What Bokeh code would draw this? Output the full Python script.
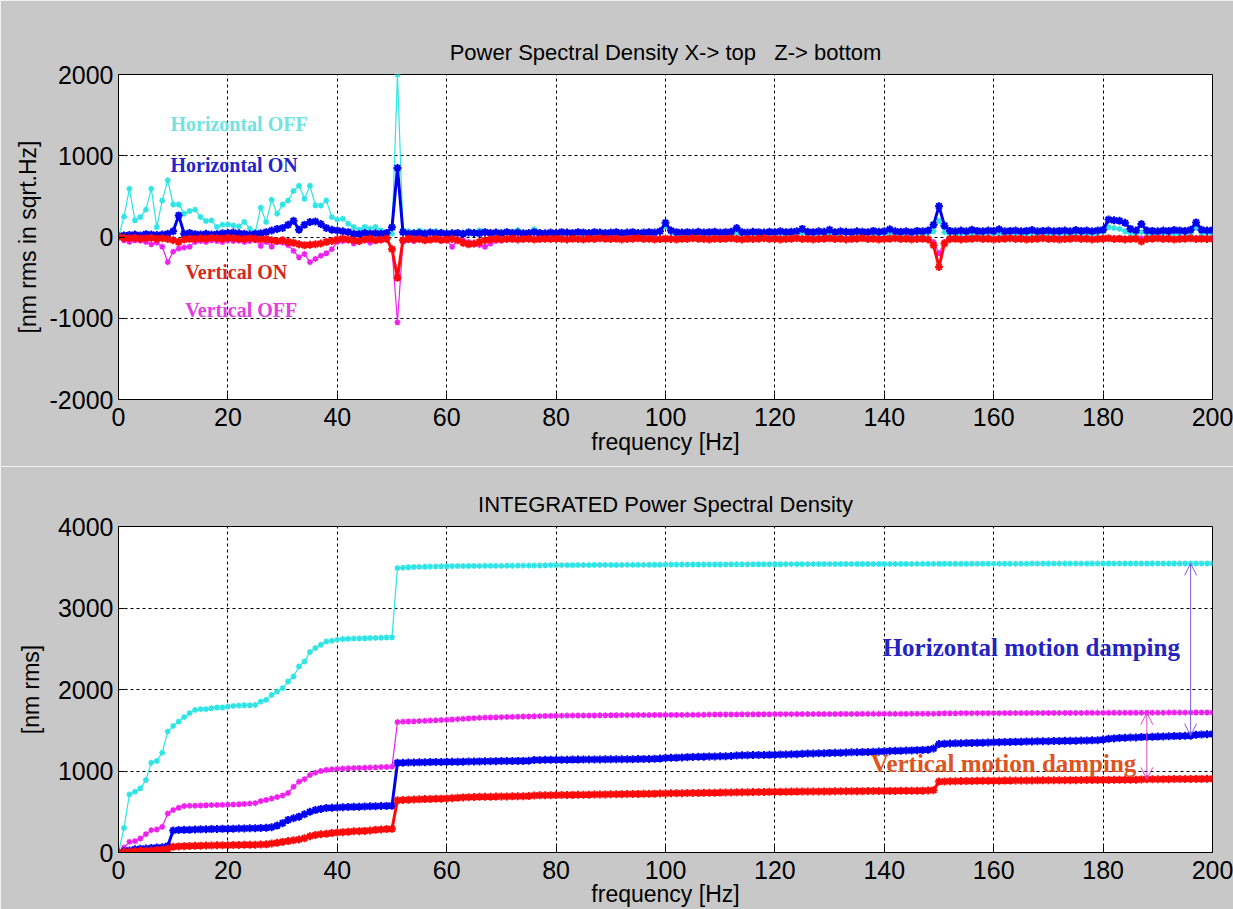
from bokeh.plotting import figure
from bokeh.layouts import column
from bokeh.models import FixedTicker, Label, Arrow, OpenHead, Range1d, ColumnDataSource
from bokeh.embed import file_html
from bokeh.resources import INLINE

# ---------------- data ----------------
freq = list(range(0, 201))  # frequency bins [Hz]
x_ticks = [0, 20, 40, 60, 80, 100, 120, 140, 160, 180, 200]
psd_ticks = [-2000, -1000, 0, 1000, 2000]
int_ticks = [0, 1000, 2000, 3000, 4000]

horiz_off_psd = [
    0, 250, 595, 205, 245, 336, 595, 123, 450, 697,
    400, 400, 287, 320, 336, 245, 197, 205, 123, 152,
    156, 143, 131, 185, 102, 61, 360, 185, 459, 287,
    400, 450, 566, 631, 471, 631, 389, 389, 450, 245,
    213, 225, 164, 123, 90, 123, 102, 123, 82, 61,
    41, 2000, 82, 70, 55, 80, 65, 60, 75, 50,
    55, 45, 60, 50, 70, 55, 80, 60, 55, 45,
    60, 50, 65, 85, 50, 40, 95, 60, 45, 40,
    35, 40, 45, 35, 40, 50, 40, 35, 40, 45,
    40, 35, 45, 40, 35, 40, 45, 40, 50, 60,
    130, 55, 40, 45, 40, 35, 45, 40, 35, 40,
    45, 40, 35, 45, 40, 35, 40, 45, 40, 35,
    40, 45, 35, 40, 45, 50, 40, 35, 40, 45,
    40, 35, 40, 45, 40, 35, 40, 45, 40, 35,
    40, 45, 40, 35, 40, 45, 40, 35, 45, 70,
    200, 60, 40, 35, 40, 45, 40, 35, 40, 45,
    40, 35, 40, 45, 40, 35, 40, 45, 40, 35,
    40, 45, 40, 35, 40, 45, 40, 35, 40, 45,
    60, 120, 110, 100, 70, 45, 40, 60, 40, 35,
    40, 45, 40, 35, 40, 45, 50, 110, 45, 40,
    45]

horiz_on_psd = [
    10, 20, 25, 30, 20, 35, 30, 25, 30, 40,
    70, 266, 40, 50, 35, 30, 40, 30, 35, 45,
    50, 55, 45, 40, 30, 40, 45, 60, 80, 100,
    110, 150, 200, 90, 150, 185, 190, 160, 110, 90,
    80, 70, 60, 40, 35, 50, 40, 45, 40, 50,
    120, 850, 60, 40, 45, 50, 40, 55, 45, 50,
    40, 45, 50, 40, 55, 50, 45, 60, 50, 55,
    45, 60, 50, 55, 45, 50, 60, 50, 45, 55,
    50, 60, 55, 50, 60, 55, 50, 60, 55, 50,
    55, 60, 50, 55, 60, 50, 55, 60, 55, 70,
    175, 80, 60, 55, 60, 55, 65, 55, 60, 65,
    55, 60, 65, 110, 60, 55, 65, 60, 55, 65,
    60, 70, 60, 65, 70, 100, 65, 60, 70, 65,
    90, 60, 70, 65, 60, 70, 65, 60, 75, 65,
    70, 95, 70, 65, 70, 60, 75, 70, 80, 150,
    380, 140, 75, 70, 80, 70, 90, 75, 70, 80,
    75, 95, 70, 75, 80, 70, 75, 85, 70, 75,
    80, 70, 75, 80, 70, 85, 75, 80, 70, 80,
    90, 215, 205, 200, 175, 100, 80, 160, 80, 75,
    70, 80, 75, 85, 80, 75, 90, 180, 90, 80,
    85]

vert_on_psd = [
    0, -10, -15, -10, -20, -15, -10, -20, -15, -25,
    -40, -60, -30, -20, -25, -15, -20, -10, -15, -20,
    -10, -15, -20, -25, -15, -20, -30, -25, -40, -50,
    -40, -60, -70, -90, -100, -95, -90, -80, -60, -50,
    -30, -20, -30, -40, -50, -30, -20, -40, -30, -20,
    -150, -500, -40, -20, -30, -25, -40, -30, -20, -35,
    -30, -25, -40, -70, -90, -80, -60, -40, -30, -20,
    -30, -25, -20, -30, -25, -20, -30, -25, -20, -25,
    -20, -25, -30, -20, -25, -30, -20, -25, -15, -20,
    -25, -20, -30, -25, -20, -15, -25, -20, -30, -25,
    -20, -25, -30, -20, -25, -15, -20, -25, -30, -20,
    -25, -20, -15, -25, -30, -20, -25, -20, -15, -25,
    -20, -30, -25, -20, -15, -25, -20, -30, -25, -20,
    -15, -25, -20, -30, -25, -20, -15, -25, -20, -30,
    -25, -20, -15, -25, -20, -30, -25, -20, -30, -100,
    -370, -80, -25, -20, -30, -25, -20, -15, -25, -20,
    -30, -25, -20, -15, -25, -20, -30, -25, -20, -15,
    -25, -20, -30, -25, -20, -15, -25, -20, -30, -25,
    -20, -15, -25, -20, -30, -25, -20, -55, -25, -20,
    -15, -25, -20, -30, -25, -20, -15, -25, -20, -25,
    -20]

vert_off_psd = [
    0, -40, -60, -40, -45, -60, -90, -70, -120, -310,
    -180, -140, -130, -120, -60, -50, -60, -40, -50, -60,
    -40, -50, -45, -60, -50, -40, -110, -60, -120, -60,
    -70, -100, -170, -250, -210, -310, -270, -230, -200, -150,
    -60, -50, -40, -80, -60, -40, -70, -50, -40, -30,
    -150, -1050, -60, -40, -50, -30, -45, -40, -35, -50,
    -40, -120, -45, -40, -60, -90, -100, -120, -80, -50,
    -40, -30, -35, -25, -30, -20, -25, -30, -20, -25,
    -30, -20, -25, -15, -20, -25, -15, -20, -25, -20,
    -15, -20, -25, -15, -20, -25, -20, -15, -20, -25,
    -20, -15, -20, -25, -15, -20, -25, -20, -15, -20,
    -15, -20, -25, -15, -20, -25, -20, -15, -20, -25,
    -20, -15, -20, -25, -15, -20, -25, -20, -15, -20,
    -25, -20, -15, -20, -25, -15, -20, -25, -20, -15,
    -20, -25, -15, -20, -25, -20, -15, -20, -25, -60,
    -200, -60, -20, -25, -15, -20, -25, -20, -15, -20,
    -25, -20, -15, -20, -25, -15, -20, -25, -20, -15,
    -20, -25, -15, -20, -25, -20, -15, -20, -25, -20,
    -15, -20, -25, -15, -20, -25, -20, -15, -20, -25,
    -20, -15, -20, -25, -15, -20, -25, -20, -15, -20,
    -20]

horiz_off_int = [
    0, 300, 713, 746, 787, 889, 1102, 1123, 1225, 1484,
    1553, 1607, 1660, 1709, 1750, 1758, 1758, 1770, 1779, 1779,
    1791, 1799, 1803, 1807, 1807, 1810, 1852, 1873, 1934, 1975,
    2016, 2098, 2160, 2283, 2344, 2459, 2508, 2549, 2590, 2598,
    2611, 2619, 2622, 2625, 2627, 2629, 2631, 2633, 2635, 2638,
    2640, 3490, 3495, 3500, 3503, 3505, 3506, 3508, 3510, 3511,
    3512, 3513, 3514, 3515, 3515, 3516, 3516, 3517, 3517, 3518,
    3518, 3519, 3519, 3520, 3520, 3521, 3521, 3522, 3524, 3525,
    3525, 3526, 3526, 3526, 3527, 3527, 3527, 3528, 3528, 3528,
    3529, 3529, 3529, 3530, 3530, 3530, 3530, 3531, 3531, 3531,
    3533, 3533, 3533, 3534, 3534, 3534, 3534, 3535, 3535, 3535,
    3535, 3535, 3536, 3536, 3536, 3536, 3536, 3537, 3537, 3537,
    3537, 3537, 3538, 3538, 3538, 3538, 3538, 3539, 3539, 3539,
    3539, 3539, 3539, 3540, 3540, 3540, 3540, 3540, 3540, 3541,
    3541, 3541, 3541, 3541, 3541, 3541, 3542, 3542, 3542, 3542,
    3543, 3543, 3543, 3543, 3543, 3543, 3543, 3544, 3544, 3544,
    3544, 3544, 3544, 3544, 3544, 3544, 3544, 3545, 3545, 3545,
    3545, 3545, 3545, 3545, 3545, 3545, 3545, 3545, 3545, 3545,
    3546, 3546, 3546, 3546, 3546, 3546, 3546, 3546, 3546, 3546,
    3546, 3546, 3546, 3546, 3546, 3546, 3547, 3547, 3547, 3547,
    3547]

vert_off_int = [
    0, 60, 131, 139, 172, 225, 274, 283, 315, 480,
    520, 549, 570, 574, 574, 578, 580, 582, 584, 585,
    587, 589, 592, 596, 600, 605, 631, 645, 664, 680,
    700, 730, 807, 869, 900, 950, 980, 1000, 1012, 1020,
    1025, 1030, 1033, 1036, 1038, 1040, 1042, 1045, 1048, 1050,
    1053, 1600, 1605, 1608, 1610, 1613, 1616, 1619, 1622, 1625,
    1628, 1632, 1636, 1640, 1644, 1648, 1652, 1655, 1657, 1659,
    1661, 1663, 1665, 1667, 1669, 1670, 1671, 1673, 1675, 1677,
    1678, 1679, 1680, 1680, 1681, 1681, 1682, 1682, 1683, 1683,
    1684, 1684, 1685, 1685, 1685, 1686, 1686, 1686, 1687, 1687,
    1687, 1688, 1688, 1688, 1689, 1689, 1689, 1690, 1692, 1693,
    1693, 1694, 1694, 1694, 1695, 1695, 1695, 1696, 1696, 1696,
    1697, 1697, 1697, 1697, 1698, 1698, 1698, 1698, 1699, 1699,
    1699, 1699, 1700, 1700, 1700, 1700, 1701, 1701, 1701, 1701,
    1702, 1702, 1702, 1702, 1702, 1703, 1703, 1703, 1703, 1703,
    1706, 1708, 1708, 1708, 1709, 1709, 1709, 1709, 1710, 1710,
    1710, 1710, 1711, 1711, 1711, 1711, 1711, 1712, 1712, 1712,
    1712, 1712, 1713, 1713, 1713, 1713, 1713, 1714, 1714, 1714,
    1714, 1714, 1715, 1715, 1715, 1715, 1715, 1716, 1716, 1716,
    1716, 1716, 1717, 1717, 1717, 1717, 1717, 1718, 1718, 1718,
    1718]

horiz_on_int = [
    0, 15, 25, 40, 45, 50, 55, 60, 65, 80,
    270, 275, 278, 280, 282, 284, 285, 287, 288, 290,
    291, 292, 294, 295, 297, 298, 300, 303, 310, 330,
    360, 400, 420, 440, 470, 500, 520, 535, 545, 550,
    552, 555, 558, 560, 562, 564, 566, 568, 570, 572,
    575, 1100, 1102, 1104, 1105, 1106, 1108, 1109, 1110, 1111,
    1112, 1113, 1114, 1115, 1116, 1117, 1118, 1119, 1120, 1121,
    1122, 1123, 1123, 1124, 1124, 1125, 1135, 1136, 1137, 1138,
    1138, 1139, 1139, 1140, 1140, 1141, 1141, 1142, 1142, 1143,
    1143, 1144, 1144, 1145, 1145, 1146, 1147, 1148, 1150, 1152,
    1160, 1162, 1164, 1166, 1170, 1172, 1174, 1176, 1178, 1179,
    1180, 1182, 1184, 1190, 1192, 1194, 1195, 1196, 1197, 1198,
    1200, 1202, 1203, 1205, 1207, 1212, 1214, 1215, 1217, 1218,
    1222, 1224, 1225, 1227, 1229, 1231, 1232, 1234, 1237, 1239,
    1241, 1245, 1247, 1249, 1251, 1253, 1256, 1258, 1262, 1275,
    1330, 1335, 1337, 1339, 1341, 1343, 1345, 1347, 1348, 1350,
    1352, 1354, 1355, 1357, 1358, 1360, 1361, 1363, 1364, 1365,
    1366, 1368, 1369, 1370, 1371, 1372, 1374, 1375, 1376, 1378,
    1385, 1395, 1400, 1405, 1408, 1410, 1411, 1416, 1418, 1420,
    1422, 1424, 1426, 1428, 1430, 1432, 1434, 1445, 1447, 1450,
    1455]

vert_on_int = [
    0, 5, 10, 15, 20, 22, 25, 30, 35, 45,
    70, 75, 78, 80, 82, 84, 85, 86, 88, 89,
    90, 91, 92, 94, 95, 96, 98, 100, 110, 120,
    130, 140, 150, 160, 175, 200, 215, 225, 230, 238,
    245, 250, 255, 260, 262, 265, 270, 278, 283, 287,
    290, 640, 645, 648, 650, 652, 655, 657, 659, 661,
    663, 667, 672, 676, 679, 681, 683, 684, 685, 686,
    687, 688, 689, 690, 691, 692, 700, 701, 702, 703,
    704, 705, 706, 707, 708, 709, 710, 711, 712, 713,
    714, 715, 716, 717, 718, 719, 720, 721, 722, 723,
    725, 726, 727, 728, 729, 730, 731, 732, 733, 734,
    735, 736, 737, 738, 739, 740, 741, 742, 743, 744,
    745, 746, 746, 747, 747, 748, 748, 749, 749, 750,
    750, 751, 751, 752, 752, 753, 753, 754, 754, 755,
    755, 756, 756, 757, 757, 758, 758, 759, 760, 765,
    870, 872, 874, 875, 876, 877, 878, 879, 880, 880,
    881, 881, 882, 882, 883, 883, 884, 884, 885, 885,
    886, 886, 887, 887, 888, 888, 889, 889, 890, 890,
    891, 891, 892, 892, 893, 893, 894, 897, 898, 899,
    899, 900, 900, 901, 901, 902, 902, 903, 903, 904,
    905]

# ---------------- styling ----------------
BG = "#c8c8c8"
C_CYAN = "#2ee4e4"
C_BLUE = "#0000f0"
C_RED = "#ff0a0a"
C_MAG = "#ee20ee"
SANS = "Liberation Sans"
SERIF = "Liberation Serif"
W = 1233


def make_fig(height, ftop, fbot, title, yr):
    p = figure(width=W, height=height, output_backend="svg", toolbar_location=None,
               x_range=Range1d(0, 200), y_range=Range1d(*yr), title=title,
               min_border_left=118, min_border_right=21,
               min_border_top=ftop, min_border_bottom=fbot)
    p.background_fill_color = "white"
    p.border_fill_color = BG
    p.outline_line_color = "black"
    p.outline_line_width = 1
    p.title.align = "center"
    p.title.text_font = SANS
    p.title.text_font_size = "22px"
    p.title.text_font_style = "normal"
    p.title.text_color = "black"
    p.title.standoff = 19
    return p


def style_axes(p, yticks, ylabel, ylab_standoff, xstand, xlabstand):
    p.xaxis.ticker = FixedTicker(ticks=x_ticks)
    p.yaxis.ticker = FixedTicker(ticks=yticks)
    p.yaxis.major_label_overrides = {t: str(t) for t in yticks}
    p.xaxis.axis_label = "frequency [Hz]"
    p.yaxis.axis_label = ylabel
    for ax in (p.xaxis[0], p.yaxis[0]):
        ax.major_label_text_font = SANS
        ax.major_label_text_font_size = "25px"
        ax.major_label_text_color = "black"
        ax.axis_label_text_font = SANS
        ax.axis_label_text_font_size = "23px"
        ax.axis_label_text_font_style = "normal"
        ax.axis_label_text_color = "black"
        ax.major_tick_in = 6
        ax.major_tick_out = 0
        ax.minor_tick_in = 0
        ax.minor_tick_out = 0
        ax.axis_line_color = "black"
        ax.major_tick_line_color = "black"
    p.xaxis.major_label_standoff = xstand
    p.xaxis.axis_label_standoff = xlabstand
    p.yaxis.major_label_standoff = 5
    p.yaxis.axis_label_standoff = ylab_standoff
    p.grid.grid_line_color = "black"
    p.grid.grid_line_dash = "3 3"
    p.grid.grid_line_width = 1


def add_series(p, y, color, thick):
    src = ColumnDataSource(dict(x=freq, y=y))
    if thick:
        p.line("x", "y", source=src, line_color=color, line_width=3)
        p.scatter("x", "y", source=src, marker="asterisk", size=8,
                  line_color=color, line_width=2)
    else:
        p.line("x", "y", source=src, line_color=color, line_width=1.2)
        p.scatter("x", "y", source=src, marker="asterisk", size=6,
                  line_color=color, line_width=1.5)


# ---------------- top: PSD ----------------
p1 = make_fig(466, 74, 67, "Power Spectral Density X-> top\u00a0\u00a0 Z-> bottom", (-2000, 2000))
style_axes(p1, psd_ticks, "[nm rms in sqrt.Hz]", 6, 8, 0)
add_series(p1, horiz_off_psd, C_CYAN, False)
add_series(p1, vert_off_psd, C_MAG, False)
add_series(p1, horiz_on_psd, C_BLUE, True)
add_series(p1, vert_on_psd, C_RED, True)

for txt, xx, yy, col in [("Horizontal OFF", 9.5, 1387, "#72e2e2"),
                         ("Horizontal ON", 9.5, 883, "#2424c8"),
                         ("Vertical ON", 12.2, -429, "#d42a1e"),
                         ("Vertical OFF", 12.2, -896, "#e040e0")]:
    p1.add_layout(Label(x=xx, y=yy, text=txt, text_font=SERIF, text_font_size="20px",
                        text_font_style="bold", text_color=col, text_baseline="middle"))

# ---------------- bottom: integrated ----------------
p2 = make_fig(443, 60, 57, "INTEGRATED Power Spectral Density", (0, 4000))
style_axes(p2, int_ticks, "[nm rms]", 11, 8, -1)
add_series(p2, horiz_off_int, C_CYAN, False)
add_series(p2, vert_off_int, C_MAG, False)
add_series(p2, horiz_on_int, C_BLUE, True)
add_series(p2, vert_on_int, C_RED, True)

p2.add_layout(Label(x=139.7, y=2515, text="Horizontal motion damping", text_font=SERIF,
                    text_font_size="25px", text_font_style="bold", text_color="#2424c0",
                    text_baseline="middle"))
p2.add_layout(Label(x=137.5, y=1092, text="Vertical motion damping", text_font=SERIF,
                    text_font_size="25px", text_font_style="bold", text_color="#dc5522",
                    text_baseline="middle"))

ia, ib = 196, 188
p2.add_layout(Arrow(start=OpenHead(size=12, line_color="#7a5ce0", line_width=1),
                    end=OpenHead(size=12, line_color="#7a5ce0", line_width=1),
                    x_start=freq[ia], y_start=horiz_off_int[ia],
                    x_end=freq[ia], y_end=horiz_on_int[ia],
                    line_color="#7a5ce0", line_width=1))
p2.add_layout(Arrow(start=OpenHead(size=12, line_color="#e048c8", line_width=1),
                    end=OpenHead(size=12, line_color="#e048c8", line_width=1),
                    x_start=freq[ib], y_start=vert_off_int[ib],
                    x_end=freq[ib], y_end=vert_on_int[ib],
                    line_color="#e048c8", line_width=1))

layout = column(p1, p2, spacing=0)
open("out.html", "w").write(file_html(layout, INLINE))
